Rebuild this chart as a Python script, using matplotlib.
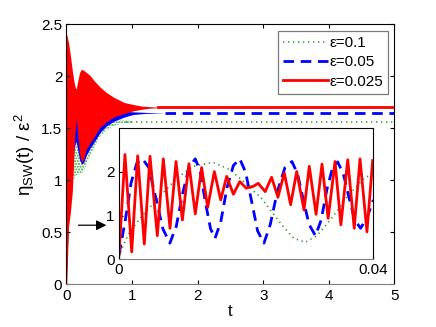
import matplotlib
matplotlib.use("Agg")
import matplotlib.pyplot as plt

plt.rcParams["font.family"] = ["Liberation Sans", "DejaVu Sans"]
plt.rcParams["mathtext.fontset"] = "custom"
plt.rcParams["mathtext.rm"] = "Liberation Sans"
plt.rcParams["mathtext.it"] = "Liberation Sans:italic"

# ── Main plot: envelopes of the fast oscillations ────────────────────────────
red_env_t = [0.0, 0.005, 0.03, 0.06, 0.09, 0.12, 0.145, 0.17, 0.20, 0.23, 0.26,
             0.30, 0.36, 0.42, 0.51, 0.60, 0.72, 0.88, 1.02, 1.15, 1.27, 1.40]
red_upper = [2.40, 2.40, 2.33, 2.20, 2.05, 1.93, 1.87, 1.95, 2.04, 2.07, 2.06,
             2.04, 2.01, 1.96, 1.90, 1.85, 1.80, 1.75, 1.73, 1.715, 1.71, 1.705]
red_lower = [0.00, 0.02, 0.55, 0.70, 0.90, 1.35, 1.60, 1.45, 1.25, 1.18, 1.20,
             1.30, 1.36, 1.42, 1.51, 1.56, 1.61, 1.645, 1.67, 1.685, 1.695, 1.70]

blue_env_t = [0.0, 0.03, 0.06, 0.09, 0.12, 0.145, 0.17, 0.20, 0.23, 0.26, 0.30,
              0.36, 0.42, 0.51, 0.60, 0.72, 0.88, 1.02, 1.20, 1.50]
blue_upper = [2.30, 2.20, 2.10, 1.98, 1.90, 1.88, 1.89, 1.90, 1.90, 1.88, 1.85,
              1.80, 1.76, 1.72, 1.70, 1.68, 1.665, 1.66, 1.655, 1.65]
blue_lower = [0.10, 0.60, 0.95, 1.15, 1.32, 1.38, 1.30, 1.20, 1.16, 1.17, 1.24,
              1.31, 1.37, 1.46, 1.52, 1.57, 1.61, 1.635, 1.645, 1.65]

green_env_t = [0.0, 0.05, 0.10, 0.15, 0.20, 0.25, 0.30, 0.36, 0.42, 0.51, 0.60,
               0.70, 0.82, 1.00]
green_upper = [2.20, 2.00, 1.80, 1.60, 1.45, 1.32, 1.32, 1.38, 1.44, 1.51, 1.56,
               1.58, 1.585, 1.575]
green_lower = [0.05, 0.75, 1.00, 1.05, 1.06, 1.08, 1.14, 1.24, 1.31, 1.42, 1.48,
               1.52, 1.545, 1.555]

tail_t = [1.40, 5.0]
red_tail = [1.705, 1.705]
blue_tail = [1.65, 1.65]
green_tail = [1.565, 1.565]
tail_t_blue = [1.50, 5.0]
tail_t_green = [0.90, 5.0]

# ── Inset: first 0.04 time units ─────────────────────────────────────────────
ins_red_t = [0.0, 0.00094, 0.0020, 0.00294, 0.00398, 0.00488, 0.00603, 0.00697,
             0.00802, 0.00897, 0.00997, 0.0110, 0.0120, 0.0130, 0.01395, 0.0150,
             0.0160, 0.01694, 0.0180, 0.0190, 0.0200, 0.0211, 0.0219, 0.0230,
             0.0240, 0.0250, 0.0260, 0.0270, 0.02795, 0.0291, 0.02993, 0.0310,
             0.03193, 0.0329, 0.03398, 0.0349, 0.03598, 0.0370, 0.03791, 0.0390,
             0.0399]
ins_red = [0.10, 2.40, 0.17, 2.37, 0.35, 2.36, 0.54, 2.30, 0.71, 2.24, 0.90,
           2.19, 1.04, 2.10, 1.19, 2.01, 1.36, 1.90, 1.49, 1.78, 1.63, 1.67,
           1.74, 1.55, 1.88, 1.42, 1.98, 1.25, 2.01, 1.13, 2.13, 1.03, 2.18,
           0.94, 2.24, 0.79, 2.28, 0.71, 2.30, 0.63, 2.26]

ins_blue_t = [0.0, 0.0010, 0.0019, 0.0028, 0.0037, 0.0047, 0.0058, 0.0069,
              0.0080, 0.0090, 0.0100, 0.0110, 0.0120, 0.0128, 0.0136, 0.0144,
              0.0151, 0.0160, 0.0170, 0.0180, 0.0190, 0.0199, 0.0209, 0.0218,
              0.0228, 0.0238, 0.0249, 0.0261, 0.0272, 0.0281, 0.0290, 0.0299,
              0.0309, 0.0318, 0.0327, 0.0336, 0.0344, 0.0353, 0.0362, 0.0371,
              0.0380, 0.0390, 0.0400]
ins_blue = [0.10, 0.90, 1.75, 2.20, 2.30, 2.10, 1.40, 0.70, 0.37, 0.75, 1.50,
            2.10, 2.30, 2.00, 1.30, 0.70, 0.48, 0.85, 1.65, 2.15, 2.30, 2.00,
            1.30, 0.65, 0.37, 0.80, 1.55, 2.10, 2.24, 1.95, 1.35, 0.80, 0.54,
            0.90, 1.60, 2.10, 2.23, 1.95, 1.40, 0.90, 0.71, 0.95, 1.36]

ins_green_t = [0.0, 0.0007, 0.0017, 0.0038, 0.0064, 0.0091, 0.0117, 0.0148,
               0.0175, 0.0198, 0.0224, 0.0256, 0.0275, 0.0293, 0.0312, 0.0335,
               0.0360, 0.0385, 0.0400]
ins_green = [0.05, 0.33, 0.63, 1.02, 1.44, 1.86, 2.13, 2.22, 2.05, 1.75, 1.40,
             0.79, 0.48, 0.39, 0.55, 0.95, 1.45, 1.85, 1.97]

labels = ["\u03b5=0.1", "\u03b5=0.05", "\u03b5=0.025"]
c_red, c_blue, c_green = "#ff0000", "#0000ff", "#33a033"

fig = plt.figure(figsize=(4.36, 3.27), dpi=100)
ax = fig.add_axes([0.1525, 0.13, 0.7523, 0.7951])

ax.fill_between(green_env_t, green_lower, green_upper, facecolor="none",
                edgecolor=c_green, hatch="......", linewidth=0)
ax.fill_between(blue_env_t, blue_lower, blue_upper, color=c_blue, linewidth=0)
ax.fill_between(red_env_t, red_lower, red_upper, color=c_red, linewidth=0)

ax.plot(tail_t_green, green_tail, color=c_green, lw=1.2, dashes=(0.8, 2.2),
        label=labels[0])
ax.plot(tail_t_blue, blue_tail, color=c_blue, lw=2.0, dashes=(3.8, 2.4),
        label=labels[1])
ax.plot(tail_t, red_tail, color=c_red, lw=2.0, label=labels[2])

ax.set_xlim(0, 5)
ax.set_ylim(0, 2.5)
ax.set_xticks([0, 1, 2, 3, 4, 5])
ax.set_yticks([0, 0.5, 1, 1.5, 2, 2.5])
ax.set_yticklabels(["0", "0.5", "1", "1.5", "2", "2.5"])
ax.tick_params(direction="in", top=True, right=True, length=3, labelsize=11,
               pad=3)
ax.spines["bottom"].set_color("0.5")
ax.set_xlabel("t", fontsize=12, labelpad=1)
ax.set_ylabel(r"$\mathregular{\eta_{SW}(t)\ /\ \varepsilon^2}$", fontsize=13.5,
              labelpad=3)

leg = ax.legend(loc="upper right", fontsize=11, handlelength=2.9,
                frameon=True, fancybox=False, borderaxespad=0.4,
                handletextpad=0.1, labelspacing=0.35, borderpad=0.35)
leg.get_frame().set_edgecolor("0.35")
leg.get_frame().set_linewidth(0.9)

ax.annotate("", xy=(0.65, 0.57), xytext=(0.14, 0.57),
            arrowprops=dict(arrowstyle="-|>", color="black", lw=0.9,
                            mutation_scale=15))

# ── Inset ────────────────────────────────────────────────────────────────────
axi = fig.add_axes([0.2729, 0.2070, 0.5833, 0.4006])
axi.plot(ins_green_t, ins_green, color=c_green, lw=1.2, dashes=(0.8, 2.2))
axi.plot(ins_blue_t, ins_blue, color=c_blue, lw=2.0, dashes=(3.8, 2.4))
axi.plot(ins_red_t, ins_red, color=c_red, lw=2.0)
axi.set_xlim(0, 0.04)
axi.set_ylim(0, 3)
axi.set_xticks([0, 0.04])
axi.set_xticklabels(["0", "0.04"])
axi.set_yticks([0, 1, 2])
axi.tick_params(direction="in", length=3, labelsize=11, pad=3)
axi.spines["bottom"].set_color("0.5")

fig.savefig("out.png", dpi=100)
